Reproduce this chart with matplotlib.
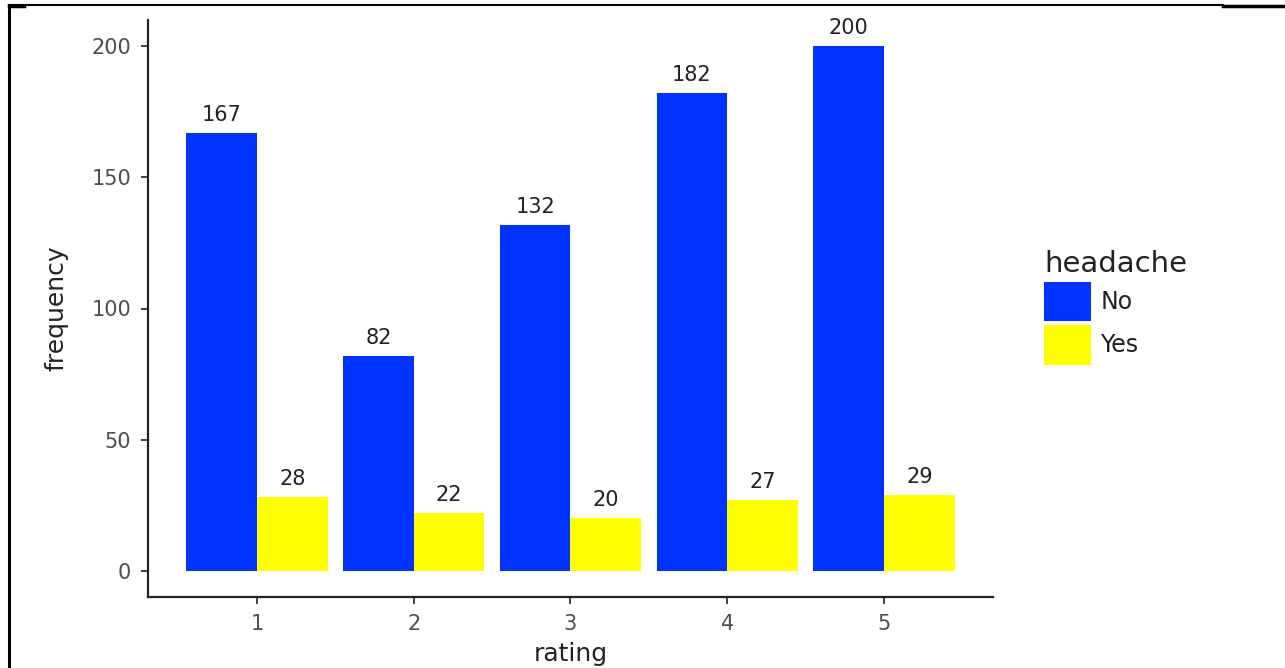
import matplotlib
matplotlib.use("Agg")
import matplotlib.pyplot as plt
from matplotlib.patches import Patch
from matplotlib.lines import Line2D
import numpy as np

ratings = ["1", "2", "3", "4", "5"]
no_vals = [167, 82, 132, 182, 200]
yes_vals = [28, 22, 20, 27, 29]
groups = ["No", "Yes"]
colors = ["#0033FF", "#FFFF00"]

plt.rcParams['font.family'] = ['DejaVu Sans']

fig = plt.figure(figsize=(12.85, 6.68), dpi=100)
W, H = 1285, 668
ax = fig.add_axes([148 / W, 1 - 597 / H, (993 - 148) / W, (597 - 20) / H])

x = np.arange(1, len(ratings) + 1)
w = 0.45
b1 = ax.bar(x - w / 2, no_vals, width=w, color=colors[0], label=groups[0])
b2 = ax.bar(x + w / 2, yes_vals, width=w, color=colors[1], label=groups[1])
for bars in (b1, b2):
    for r in bars:
        ax.annotate(f"{int(r.get_height())}", (r.get_x() + r.get_width() / 2, r.get_height()),
                    xytext=(0, 8.6), textcoords="offset points", ha="center", va="baseline",
                    fontsize=15, color="#222222")

ax.set_xlim(0.305, 5.695)
ax.set_ylim(-10, 210)
ax.set_xticks(x)
ax.set_xticklabels(ratings)
ax.set_yticks([0, 50, 100, 150, 200])
for s in ["top", "right"]:
    ax.spines[s].set_visible(False)
for s in ["left", "bottom"]:
    ax.spines[s].set_linewidth(1.6)
    ax.spines[s].set_color("#222222")
ax.tick_params(axis="both", labelsize=15, labelcolor="#4D4D4D", color="#333333",
               width=1.3, length=5)
ax.tick_params(axis="y", pad=7)
ax.tick_params(axis="x", pad=7)
ax.set_xlabel("rating", fontsize=18, color="#222222", labelpad=6)
ax.set_ylabel("frequency", fontsize=18, color="#222222", labelpad=17)

handles = [Patch(facecolor=c, edgecolor="none") for c in colors]
leg = fig.legend(handles, groups, title="headache", loc="upper left",
                 bbox_to_anchor=(1044 / W, 1 - 250 / H), frameon=False,
                 fontsize=17, title_fontsize=21, handlelength=1.99, handleheight=2.18,
                 labelspacing=0.17, handletextpad=0.4, borderaxespad=0, borderpad=0)
leg._legend_box.align = "left"
for t in leg.get_texts():
    t.set_color("#222222")
leg.get_title().set_color("#222222")

# page border lines
fig.add_artist(Line2D([9 / W, 9 / W], [0, 1 - 5 / H], transform=fig.transFigure, color="black", lw=2.2))
fig.add_artist(Line2D([9 / W, 1223 / W], [1 - 5 / H, 1 - 5 / H], transform=fig.transFigure, color="black", lw=1.5))
fig.add_artist(Line2D([9 / W, 24 / W], [1 - 6 / H, 1 - 6 / H], transform=fig.transFigure, color="black", lw=2.5))
fig.add_artist(Line2D([1223 / W, 1], [1 - 6 / H, 1 - 6 / H], transform=fig.transFigure, color="black", lw=2.5))

fig.savefig("out.png", dpi=100)
